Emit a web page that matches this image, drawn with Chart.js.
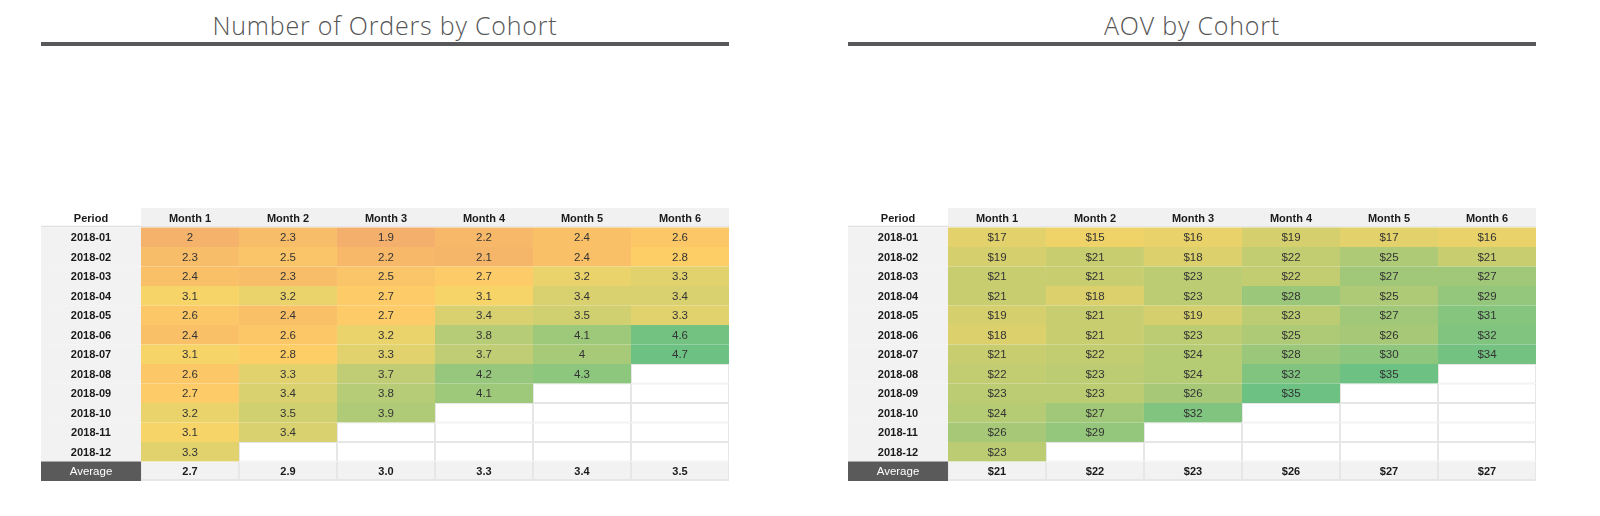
<!DOCTYPE html>
<html>
<head>
<meta charset="utf-8">
<script src="https://cdn.jsdelivr.net/npm/chart.js@4.4.1/dist/chart.umd.min.js"></script>
<style>
  body { margin: 0; background: #fff; width: 1600px; height: 516px; position: relative; overflow: hidden; }
  .title { position: absolute; top: 7px; width: 688px; text-align: center; font-family: "Open Sans", sans-serif; font-weight: 300; font-size: 25px; letter-spacing: 0.8px; color: #555; line-height: 36px; }
  .rule { position: absolute; top: 42px; width: 688px; height: 4px; background: #58585a; }
  .box { position: absolute; top: 208px; width: 688px; height: 273px; }
</style>
</head>
<body>
<div class="title" style="left:41px">Number of Orders by Cohort</div>
<div class="rule" style="left:41px"></div>
<div class="box" style="left:41px"><canvas id="orders"></canvas></div>

<div class="title" style="left:848px">AOV by Cohort</div>
<div class="rule" style="left:848px"></div>
<div class="box" style="left:848px"><canvas id="aov"></canvas></div>

<script>
// row / column labels
const periods = ['2018-01', '2018-02', '2018-03', '2018-04', '2018-05', '2018-06',
                 '2018-07', '2018-08', '2018-09', '2018-10', '2018-11', '2018-12'];
const months = ['Month 1', 'Month 2', 'Month 3', 'Month 4', 'Month 5', 'Month 6'];

// number of orders, one array per month column (top to bottom)
const ordersM1 = [2, 2.3, 2.4, 3.1, 2.6, 2.4, 3.1, 2.6, 2.7, 3.2, 3.1, 3.3];
const ordersM2 = [2.3, 2.5, 2.3, 3.2, 2.4, 2.6, 2.8, 3.3, 3.4, 3.5, 3.4];
const ordersM3 = [1.9, 2.2, 2.5, 2.7, 2.7, 3.2, 3.3, 3.7, 3.8, 3.9];
const ordersM4 = [2.2, 2.1, 2.7, 3.1, 3.4, 3.8, 3.7, 4.2, 4.1];
const ordersM5 = [2.4, 2.4, 3.2, 3.4, 3.5, 4.1, 4, 4.3];
const ordersM6 = [2.6, 2.8, 3.3, 3.4, 3.3, 4.6, 4.7];
const ordersAvg = [2.7, 2.9, 3.0, 3.3, 3.4, 3.5];

// average order value ($)
const aovM1 = [17, 19, 21, 21, 19, 18, 21, 22, 23, 24, 26, 23];
const aovM2 = [15, 21, 21, 18, 21, 21, 22, 23, 23, 27, 29];
const aovM3 = [16, 18, 23, 23, 19, 23, 24, 24, 26, 32];
const aovM4 = [19, 22, 22, 28, 23, 25, 28, 32, 35];
const aovM5 = [17, 25, 27, 25, 27, 26, 30, 35];
const aovM6 = [16, 21, 27, 29, 31, 32, 34];
const aovAvg = [21, 22, 23, 26, 27, 27];

const ordersStops = [[1.9, [243, 175, 107]], [2.8, [254, 206, 102]], [3.1, [246, 212, 104]],
                     [3.3, [225, 210, 110]], [4.7, [108, 193, 131]]];
const aovStops = [[15, [240, 211, 104]], [35, [108, 193, 131]]];

function scaleColor(stops, v) {
    if (v <= stops[0][0]) return 'rgb(' + stops[0][1].join(',') + ')';
    for (let i = 1; i < stops.length; i++) {
        if (v <= stops[i][0]) {
            const t = (v - stops[i - 1][0]) / (stops[i][0] - stops[i - 1][0]);
            const a = stops[i - 1][1], b = stops[i][1];
            return 'rgb(' + a.map((c, k) => Math.round(c + (b[k] - c) * t)).join(',') + ')';
        }
    }
    return 'rgb(' + stops[stops.length - 1][1].join(',') + ')';
}

const cellText = {
    id: 'cellText',
    afterDatasetsDraw(chart) {
        const ctx = chart.ctx;
        ctx.save();
        ctx.textAlign = 'center';
        ctx.textBaseline = 'middle';
        chart.data.datasets.forEach((ds, i) => {
            chart.getDatasetMeta(i).data.forEach((bar, j) => {
                const t = ds.texts[j];
                if (!t) return;
                const p = bar.getProps(['x', 'y', 'base'], true);
                ctx.font = ds.fonts[j];
                ctx.fillStyle = ds.textColors[j];
                ctx.fillText(t, (p.x + p.base) / 2, p.y + 1);
            });
        });
        ctx.restore();
    }
};

const BOLD = 'bold 11px "Liberation Sans", Arial, sans-serif';
const NORMAL = '11.5px "Liberation Sans", Arial, sans-serif';
const PERIOD_W = 1.02;

function buildTable(id, columns, avg, fmt, fmtAvg, stops) {
    const rows = ['Period'].concat(periods, ['Average']);
    const n = rows.length;
    const datasets = [];

    // label column
    datasets.push({
        data: rows.map(() => PERIOD_W),
        backgroundColor: rows.map((r, j) => j === 0 ? '#ffffff' : (j === n - 1 ? '#5a5a5a' : '#f2f2f2')),
        borderWidth: rows.map((r, j) => j === 0 ? { bottom: 2 } : 0),
        borderColor: '#e0e0e0',
        texts: rows,
        fonts: rows.map((r, j) => j === n - 1 ? NORMAL : BOLD),
        textColors: rows.map((r, j) => j === n - 1 ? '#ffffff' : '#1a1a1a'),
    });

    columns.forEach((vals, k) => {
        const bg = [], bw = [], texts = [], fonts = [], colors = [];
        for (let j = 0; j < n; j++) {
            if (j === 0) {
                bg.push('#f1f1f1'); bw.push({ bottom: 2 });
                texts.push(months[k]); fonts.push(BOLD); colors.push('#1a1a1a');
            } else if (j === n - 1) {
                bg.push('#f2f2f2'); bw.push({ left: 1, right: 1, bottom: 2 });
                texts.push(fmtAvg(avg[k])); fonts.push(BOLD); colors.push('#1a1a1a');
            } else {
                const v = vals[j - 1];
                if (v === undefined) {
                    bg.push('#ffffff'); bw.push({ left: 1, right: 1, top: 1, bottom: 1 });
                    texts.push(''); fonts.push(NORMAL); colors.push('#333');
                } else {
                    bg.push(scaleColor(stops, v)); bw.push(0);
                    texts.push(fmt(v)); fonts.push(NORMAL); colors.push('#333333');
                }
            }
        }
        datasets.push({
            data: rows.map(() => 1),
            backgroundColor: bg,
            borderWidth: bw,
            borderColor: '#e6e6e6',
            texts: texts,
            fonts: fonts,
            textColors: colors,
        });
    });

    return new Chart(document.getElementById(id), {
        type: 'bar',
        data: { labels: rows, datasets: datasets },
        plugins: [cellText],
        options: {
            indexAxis: 'y',
            responsive: true,
            maintainAspectRatio: false,
            animation: false,
            layout: { padding: 0 },
            datasets: {
                bar: {
                    barPercentage: 1,
                    categoryPercentage: 1,
                    borderSkipped: false,
                    inflateAmount: 0,
                },
            },
            scales: {
                x: { stacked: true, display: false, min: 0, max: PERIOD_W + months.length },
                y: { stacked: true, display: false },
            },
            plugins: {
                legend: { display: false },
                tooltip: { enabled: false },
                title: { display: false },
            },
        },
    });
}

buildTable('orders', [ordersM1, ordersM2, ordersM3, ordersM4, ordersM5, ordersM6], ordersAvg,
    v => String(v), v => v.toFixed(1), ordersStops);
buildTable('aov', [aovM1, aovM2, aovM3, aovM4, aovM5, aovM6], aovAvg,
    v => '$' + v, v => '$' + v, aovStops);
</script>
</body>
</html>
